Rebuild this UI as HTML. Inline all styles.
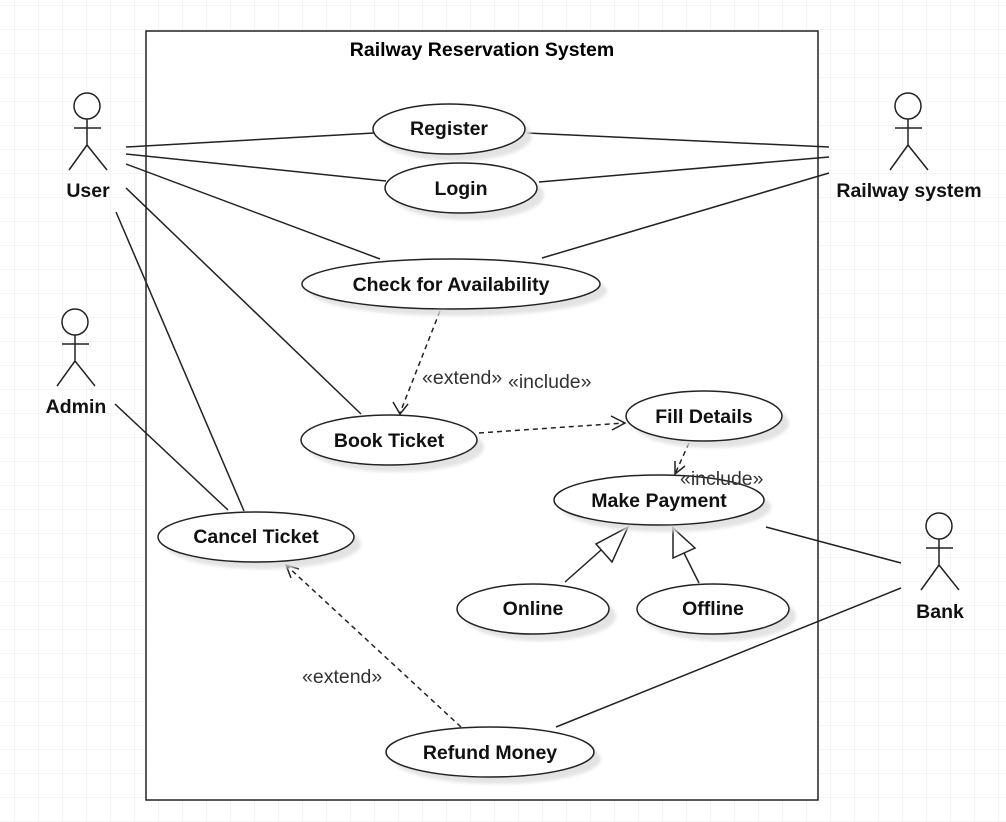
<!DOCTYPE html>
<html><head><meta charset="utf-8"><style>
html,body{margin:0;padding:0;background:#fff;}
svg{display:block;}
text{font-family:"Liberation Sans",sans-serif;}
</style></head><body>
<svg width="1006" height="822" viewBox="0 0 1006 822" xmlns="http://www.w3.org/2000/svg">
<defs>
<pattern id="g" x="14" y="5" width="24" height="24" patternUnits="userSpaceOnUse">
<path d="M0 0H24M0 0V24" stroke="#ebebeb" stroke-width="1" fill="none"/>
</pattern>
<filter id="sh" x="-20%" y="-30%" width="150%" height="180%"><feGaussianBlur stdDeviation="1.5"/></filter>
</defs>
<rect width="1006" height="822" fill="url(#g)"/>
<rect x="146" y="31" width="672" height="769" fill="#fff" stroke="#222" stroke-width="1.5"/>
<text x="482" y="56" font-size="19.5" font-weight="bold" text-anchor="middle">Railway Reservation System</text>

<g stroke="#222" stroke-width="1.5" fill="none">
<line x1="126" y1="147" x2="374" y2="133"/>
<line x1="126" y1="154" x2="386" y2="181"/>
<line x1="126" y1="164" x2="380" y2="259"/>
<line x1="126" y1="188" x2="361" y2="414"/>
<line x1="116" y1="212" x2="244" y2="511"/>
<line x1="115" y1="404" x2="228" y2="510"/>
<line x1="527" y1="133" x2="829" y2="147"/>
<line x1="539" y1="182" x2="829" y2="157"/>
<line x1="542" y1="258" x2="829" y2="173"/>
<line x1="766" y1="527" x2="901" y2="563"/>
<line x1="556" y1="727" x2="901" y2="588"/>
<line x1="565" y1="582" x2="609" y2="543"/>
<polygon points="628,527 596,544 612,562" fill="#fff"/>
<line x1="699" y1="583" x2="684" y2="553"/>
<polygon points="673,528 673,558 695,548" fill="#fff"/>
</g>
<g stroke="#222" stroke-width="1.5" fill="none" stroke-dasharray="5,4">
<line x1="440" y1="311" x2="400" y2="413"/>
<line x1="479" y1="433" x2="624" y2="423"/>
<line x1="689" y1="443" x2="675" y2="474"/>
<line x1="461" y1="727" x2="286" y2="565"/>
</g>
<g stroke="#222" stroke-width="1.5" fill="none">
<polyline points="393,402 400,414 408,404"/>
<polyline points="611,416 625,423 612,430"/>
<polyline points="685,466 675,474 675,461"/>
<polyline points="291,578 286,565 299,569"/>
</g>
<g font-size="19.5" fill="#333">
<text x="422" y="384">«extend»</text>
<text x="508" y="388">«include»</text>
<text x="302" y="683">«extend»</text>
</g>

<g>
<g fill="#ddd" opacity="0.8" filter="url(#sh)">
<ellipse cx="456" cy="136" rx="76" ry="25"/>
<ellipse cx="468" cy="195" rx="76" ry="25"/>
<ellipse cx="458" cy="291" rx="149" ry="25"/>
<ellipse cx="396" cy="447" rx="88" ry="25"/>
<ellipse cx="711" cy="423" rx="78" ry="25"/>
<ellipse cx="666" cy="507" rx="105" ry="25"/>
<ellipse cx="263" cy="544" rx="98" ry="25"/>
<ellipse cx="540" cy="616" rx="76" ry="25"/>
<ellipse cx="720" cy="616" rx="76" ry="25"/>
<ellipse cx="497" cy="759" rx="104" ry="25"/>
</g>
<g fill="#fff" stroke="#222" stroke-width="1.5">
<ellipse cx="449" cy="129" rx="76" ry="25"/>
<ellipse cx="461" cy="188" rx="76" ry="25"/>
<ellipse cx="451" cy="284" rx="149" ry="25"/>
<ellipse cx="389" cy="440" rx="88" ry="25"/>
<ellipse cx="704" cy="416" rx="78" ry="25"/>
<ellipse cx="659" cy="500" rx="105" ry="25"/>
<ellipse cx="256" cy="537" rx="98" ry="25"/>
<ellipse cx="533" cy="609" rx="76" ry="25"/>
<ellipse cx="713" cy="609" rx="76" ry="25"/>
<ellipse cx="490" cy="752" rx="104" ry="25"/>
</g>
<g font-size="19.5" font-weight="bold" text-anchor="middle" fill="#111">
<text x="449" y="135">Register</text>
<text x="461" y="195">Login</text>
<text x="451" y="291">Check for Availability</text>
<text x="389" y="447">Book Ticket</text>
<text x="704" y="423">Fill Details</text>
<text x="659" y="507">Make Payment</text>
<text x="256" y="543">Cancel Ticket</text>
<text x="533" y="615">Online</text>
<text x="713" y="615">Offline</text>
<text x="490" y="759">Refund Money</text>
</g>
</g>
<text x="680" y="485" font-size="19.5" fill="#333">«include»</text>

<g stroke="#222" stroke-width="1.5" fill="#fff">
<circle cx="87" cy="106" r="13"/>
<path d="M87 119V145M74 128H101M87 145L69 170M87 145L107 170" fill="none"/>
<circle cx="908" cy="106" r="13"/>
<path d="M908 119V145M895 128H922M908 145L890 170M908 145L928 170" fill="none"/>
<circle cx="75" cy="322" r="13"/>
<path d="M75 335V361M62 344H89M75 361L57 386M75 361L95 386" fill="none"/>
<circle cx="939" cy="526" r="13"/>
<path d="M939 539V565M926 548H953M939 565L921 590M939 565L959 590" fill="none"/>
</g>
<g font-size="19.5" font-weight="bold" text-anchor="middle" fill="#111">
<text x="88" y="197">User</text>
<text x="909" y="197">Railway system</text>
<text x="76" y="413">Admin</text>
<text x="940" y="618">Bank</text>
</g>
</svg>
</body></html>
